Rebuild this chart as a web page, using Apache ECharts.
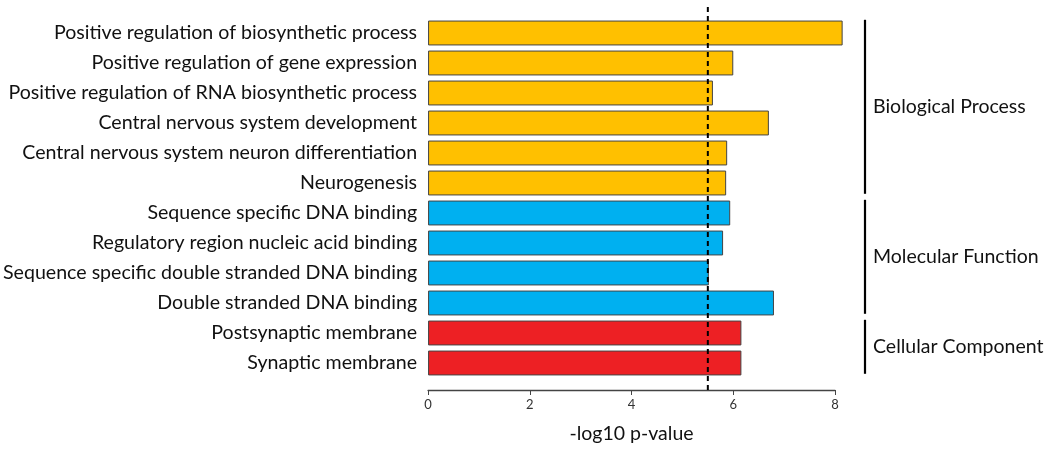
<!DOCTYPE html>
<html><head><meta charset="utf-8">
<script src="https://cdn.jsdelivr.net/npm/echarts@6/dist/echarts.min.js"></script>
<style>html,body{margin:0;padding:0;background:#fff}#c{width:1050px;height:449px}</style>
</head><body><div id="c"></div>
<script>
const categories = [
  "Positive regulation of biosynthetic process",
  "Positive regulation of gene expression",
  "Positive regulation of RNA biosynthetic process",
  "Central nervous system development",
  "Central nervous system neuron differentiation",
  "Neurogenesis",
  "Sequence specific DNA binding",
  "Regulatory region nucleic acid binding",
  "Sequence specific double stranded DNA binding",
  "Double stranded DNA binding",
  "Postsynaptic membrane",
  "Synaptic membrane"
];
const values = [8.15, 6.0, 5.6, 6.7, 5.88, 5.86, 5.94, 5.8, 5.52, 6.8, 6.16, 6.16];
const groupOf = [0,0,0,0,0,0,1,1,1,1,2,2];
const groupNames = ["Biological Process", "Molecular Function", "Cellular Component"];
const groupRanges = [[0,5],[6,9],[10,11]];
const groupColors = ["#FFC000", "#00B0F0", "#ED2024"];
const threshold = 5.5;
const xTicks = [0, 2, 4, 6, 8];

const FONT = "Lato";
const chart = echarts.init(document.getElementById('c'));
chart.setOption({
  animation: false,
  grid: { left: 427, right: 215, top: 18, bottom: 65 },
  xAxis: {
    type: 'value', min: xTicks[0], max: xTicks[xTicks.length-1], interval: 2,
    offset: 12,
    splitLine: { show: false },
    axisLine: { show: true, lineStyle: { color: '#444', width: 1.3 } },
    axisTick: { show: true, length: 5, lineStyle: { color: '#444' } },
    axisLabel: { color: '#333', fontSize: 13, fontFamily: FONT, margin: 8 },
    name: '-log10 p-value', nameLocation: 'middle', nameGap: 34,
    nameTextStyle: { color: '#111', fontSize: 19.5, fontFamily: FONT }
  },
  yAxis: {
    type: 'category', data: categories, inverse: true,
    axisLine: { show: false }, axisTick: { show: false },
    axisLabel: { color: '#111', fontSize: 19.6, fontFamily: FONT, margin: 11 }
  },
  series: [
    {
      type: 'bar', clip: false, barCategoryGap: '17%', z: 2,
      data: values.map((v, i) => ({ value: v, itemStyle: { color: groupColors[groupOf[i]] } })),
      itemStyle: { borderColor: '#444', borderWidth: 1 }
    },
    {
      type: 'custom', clip: false, silent: true, z: 10,
      data: [[threshold, 0]],
      encode: { x: 0, y: 1 },
      renderItem: function (params, api) {
        const x = api.coord([api.value(0), 0])[0];
        const cs = params.coordSys;
        return { type: 'line', shape: { x1: x, y1: cs.y - 11, x2: x, y2: cs.y + cs.height + 12 },
          style: { stroke: '#000', lineWidth: 2, lineDash: [5, 4] } };
      }
    },
    {
      type: 'custom', clip: false, silent: true, z: 10,
      data: groupRanges.map((r, i) => [0, r[0], r[1], i]),
      encode: { x: 0, y: 1 },
      renderItem: function (params, api) {
        const cs = params.coordSys;
        const band = api.size([0, 1])[1];
        const y1 = api.coord([0, api.value(1)])[1] - 0.44 * band;
        const y2 = api.coord([0, api.value(2)])[1] + 0.36 * band;
        const x = cs.x + cs.width + 30;
        return { type: 'group', children: [
          { type: 'line', shape: { x1: x, y1: y1, x2: x, y2: y2 }, style: { stroke: '#000', lineWidth: 2.2 } },
          { type: 'text', x: x + 8, y: (y1 + y2) / 2,
            style: { text: groupNames[api.value(3)], fill: '#111', font: '19.5px ' + FONT, verticalAlign: 'middle', align: 'left' } }
        ] };
      }
    }
  ]
});
</script></body></html>
